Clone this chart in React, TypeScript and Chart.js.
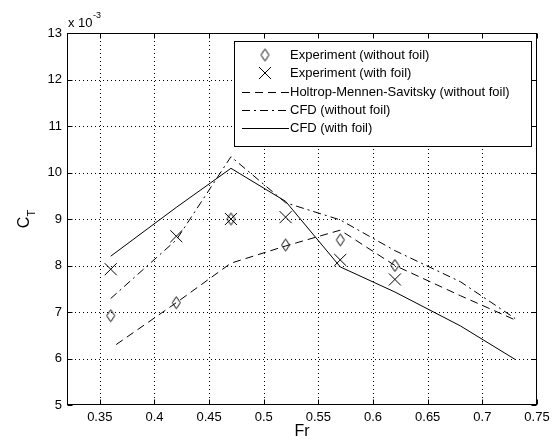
import React, { useEffect, useRef } from 'react';
import { Chart, registerables } from 'chart.js';
Chart.register(...registerables);

const W = 558;
const H = 446;
const FONT = '"Liberation Sans", Arial, sans-serif';

// Data (C_T values in units of 1e-3)
const frExp = [0.36, 0.42, 0.47, 0.52, 0.57, 0.62];
const ctExpNoFoil = [6.92, 7.2, 9.0, 8.44, 8.55, 8.0];
const ctExpFoil = [7.92, 8.63, 9.0, 9.04, 8.12, 7.7];
const frHms = [0.365, 0.42, 0.47, 0.52, 0.57, 0.62, 0.68, 0.73];
const ctHms = [6.3, 7.2, 8.05, 8.42, 8.76, 8.0, 7.35, 6.83];
const frCfd = [0.36, 0.42, 0.47, 0.52, 0.57, 0.62, 0.68, 0.73];
const ctCfdNoFoil = [7.29, 8.55, 10.34, 9.35, 8.98, 8.32, 7.65, 6.86];
const ctCfdFoil = [8.2, 9.25, 10.09, 9.38, 7.97, 7.43, 6.7, 5.98];
const xTicks = [0.35, 0.4, 0.45, 0.5, 0.55, 0.6, 0.65, 0.7, 0.75];
const yTicks = [5, 6, 7, 8, 9, 10, 11, 12, 13];
const legendLabels = [
  'Experiment (without foil)',
  'Experiment (with foil)',
  'Holtrop-Mennen-Savitsky (without foil)',
  'CFD (without foil)',
  'CFD (with foil)',
];

const pts = (xs: number[], ys: number[]) => xs.map((x, i) => ({ x, y: ys[i] }));

function makeDiamond() {
  const c = document.createElement('canvas');
  c.width = 11;
  c.height = 15;
  const g = c.getContext('2d')!;
  g.strokeStyle = '#000';
  g.lineWidth = 1;
  g.beginPath();
  g.moveTo(5.5, 1.5);
  g.lineTo(9.5, 7.5);
  g.lineTo(5.5, 13.5);
  g.lineTo(1.5, 7.5);
  g.closePath();
  g.stroke();
  return c;
}

const DASH = [8, 5];
const DASHDOT = [8, 4, 2, 4];

function drawCross(ctx: CanvasRenderingContext2D, cx: number, cy: number, h: number) {
  ctx.beginPath();
  ctx.moveTo(cx - h, cy - h);
  ctx.lineTo(cx + h, cy + h);
  ctx.moveTo(cx - h, cy + h);
  ctx.lineTo(cx + h, cy - h);
  ctx.stroke();
}

const framePlugin = {
  id: 'matlabFrame',
  beforeDatasetsDraw(chart: any) {
    const { ctx, chartArea: a, scales } = chart;
    const x = scales.x;
    const y = scales.y;
    ctx.save();
    ctx.strokeStyle = '#000';
    ctx.lineWidth = 1;
    ctx.setLineDash([1, 3]);
    xTicks.forEach((v) => {
      const px = Math.round(x.getPixelForValue(v)) + 0.5;
      if (px >= a.right - 1) return;
      ctx.beginPath();
      ctx.moveTo(px, a.top);
      ctx.lineTo(px, a.bottom);
      ctx.stroke();
    });
    yTicks.forEach((v) => {
      const py = Math.round(y.getPixelForValue(v)) + 0.5;
      if (py <= a.top + 1 || py >= a.bottom - 1) return;
      ctx.beginPath();
      ctx.moveTo(a.left, py);
      ctx.lineTo(a.right, py);
      ctx.stroke();
    });
    ctx.restore();
  },
  afterDatasetsDraw(chart: any) {
    const { ctx, chartArea: a, scales } = chart;
    const x = scales.x;
    const y = scales.y;
    const L = Math.round(a.left) + 0.5;
    const R = Math.round(a.right) - 0.5;
    const T = Math.round(a.top) + 0.5;
    const B = Math.round(a.bottom) - 0.5;
    ctx.save();
    ctx.strokeStyle = '#000';
    ctx.lineWidth = 1;
    ctx.setLineDash([]);
    ctx.strokeRect(L, T, R - L, B - T);
    const tl = 5;
    xTicks.forEach((v) => {
      const px = Math.round(x.getPixelForValue(v)) + 0.5;
      ctx.beginPath();
      ctx.moveTo(px, B);
      ctx.lineTo(px, B - tl);
      ctx.moveTo(px, T);
      ctx.lineTo(px, T + tl);
      ctx.stroke();
    });
    yTicks.forEach((v) => {
      const py = Math.round(y.getPixelForValue(v)) + 0.5;
      ctx.beginPath();
      ctx.moveTo(L, py);
      ctx.lineTo(L + tl, py);
      ctx.moveTo(R, py);
      ctx.lineTo(R - tl, py);
      ctx.stroke();
    });
    ctx.restore();
  },
  afterDraw(chart: any) {
    const { ctx, chartArea: a } = chart;
    ctx.save();
    // legend
    const lx0 = 234.5, ly0 = 41.5, lx1 = 531.5, ly1 = 146.5;
    ctx.fillStyle = '#fff';
    ctx.fillRect(lx0, ly0, lx1 - lx0, ly1 - ly0);
    ctx.strokeStyle = '#000';
    ctx.lineWidth = 1;
    ctx.setLineDash([]);
    ctx.strokeRect(lx0, ly0, lx1 - lx0, ly1 - ly0);
    const rows = [55, 73, 92, 110, 128];
    ctx.font = `13px ${FONT}`;
    ctx.fillStyle = '#000';
    ctx.textAlign = 'left';
    ctx.textBaseline = 'middle';
    legendLabels.forEach((t, i) => ctx.fillText(t, 290, rows[i] + 0.5));
    // markers
    ctx.drawImage(diamondImg, 265 - diamondImg.width / 2, rows[0] - diamondImg.height / 2);
    drawCross(ctx, 265, rows[1], 6);
    const sample = (ry: number, dash: number[]) => {
      ctx.setLineDash(dash);
      ctx.beginPath();
      ctx.moveTo(242, ry + 0.5);
      ctx.lineTo(289, ry + 0.5);
      ctx.stroke();
    };
    sample(rows[2], DASH);
    sample(rows[3], DASHDOT);
    sample(rows[4], []);
    ctx.setLineDash([]);
    // axis titles
    ctx.textAlign = 'center';
    ctx.font = `16px ${FONT}`;
    ctx.fillText('Fr', (a.left + a.right) / 2, 432);
    ctx.save();
    ctx.translate(27, (a.top + a.bottom) / 2);
    ctx.rotate(-Math.PI / 2);
    ctx.textAlign = 'left';
    ctx.font = `16px ${FONT}`;
    const cw = ctx.measureText('C').width;
    ctx.font = `11px ${FONT}`;
    const tw = ctx.measureText('T').width;
    const start = -(cw + tw) / 2;
    ctx.font = `16px ${FONT}`;
    ctx.fillText('C', start, -2);
    ctx.font = `11px ${FONT}`;
    ctx.fillText('T', start + cw, 5);
    ctx.restore();
    // exponent label
    ctx.textAlign = 'left';
    ctx.textBaseline = 'alphabetic';
    ctx.font = `13px ${FONT}`;
    ctx.fillText('x 10', 68, 27);
    const w10 = ctx.measureText('x 10').width;
    ctx.font = `9px ${FONT}`;
    ctx.fillText('-3', 68 + w10 + 0.5, 18);
    ctx.restore();
  },
};

let diamondImg: HTMLCanvasElement;

export default function App() {
  const ref = useRef<HTMLCanvasElement>(null);
  useEffect(() => {
    document.body.style.margin = '0';
    diamondImg = makeDiamond();
    const tickFont = { family: FONT, size: 13 };
    const chart = new Chart(ref.current!, {
      type: 'scatter',
      data: {
        datasets: [
          {
            label: legendLabels[0],
            data: pts(frExp, ctExpNoFoil),
            showLine: false,
            pointStyle: diamondImg as any,
            pointRadius: 6,
            borderColor: '#000',
            backgroundColor: 'transparent',
          },
          {
            label: legendLabels[1],
            data: pts(frExp, ctExpFoil),
            showLine: false,
            pointStyle: 'crossRot',
            pointRadius: 8.5,
            borderWidth: 1,
            borderColor: '#000',
            backgroundColor: 'transparent',
          },
          {
            label: legendLabels[2],
            data: pts(frHms, ctHms),
            showLine: true,
            pointRadius: 0,
            borderWidth: 1,
            borderColor: '#000',
            borderDash: DASH,
            tension: 0,
          },
          {
            label: legendLabels[3],
            data: pts(frCfd, ctCfdNoFoil),
            showLine: true,
            pointRadius: 0,
            borderWidth: 1,
            borderColor: '#000',
            borderDash: DASHDOT,
            tension: 0,
          },
          {
            label: legendLabels[4],
            data: pts(frCfd, ctCfdFoil),
            showLine: true,
            pointRadius: 0,
            borderWidth: 1,
            borderColor: '#000',
            tension: 0,
          },
        ],
      },
      options: {
        animation: false,
        responsive: false,
        devicePixelRatio: 1,
        layout: { padding: { top: 33, right: 21, left: 0, bottom: 0 } },
        plugins: { legend: { display: false }, tooltip: { enabled: false } },
        scales: {
          x: {
            type: 'linear',
            min: 0.32,
            max: 0.75,
            grid: { display: false, drawTicks: false },
            border: { display: false },
            afterBuildTicks: (s: any) => {
              s.ticks = xTicks.map((v) => ({ value: v }));
            },
            afterFit: (s: any) => {
              s.height = 41;
            },
            ticks: {
              font: tickFont,
              color: '#000',
              padding: 5,
              maxRotation: 0,
              autoSkip: false,
              callback: (v: any) => String(Number(Number(v).toFixed(2))),
            },
          },
          y: {
            type: 'linear',
            min: 5,
            max: 13,
            grid: { display: false, drawTicks: false },
            border: { display: false },
            afterBuildTicks: (s: any) => {
              s.ticks = yTicks.map((v) => ({ value: v }));
            },
            afterFit: (s: any) => {
              s.width = 67;
            },
            ticks: {
              font: tickFont,
              color: '#000',
              padding: 5,
              autoSkip: false,
              callback: (v: any) => String(v),
            },
          },
        },
      },
      plugins: [framePlugin],
    });
    return () => chart.destroy();
  }, []);
  return (
    <div style={{ width: W, height: H, background: '#fff' }}>
      <canvas ref={ref} width={W} height={H} style={{ display: 'block' }} />
    </div>
  );
}
